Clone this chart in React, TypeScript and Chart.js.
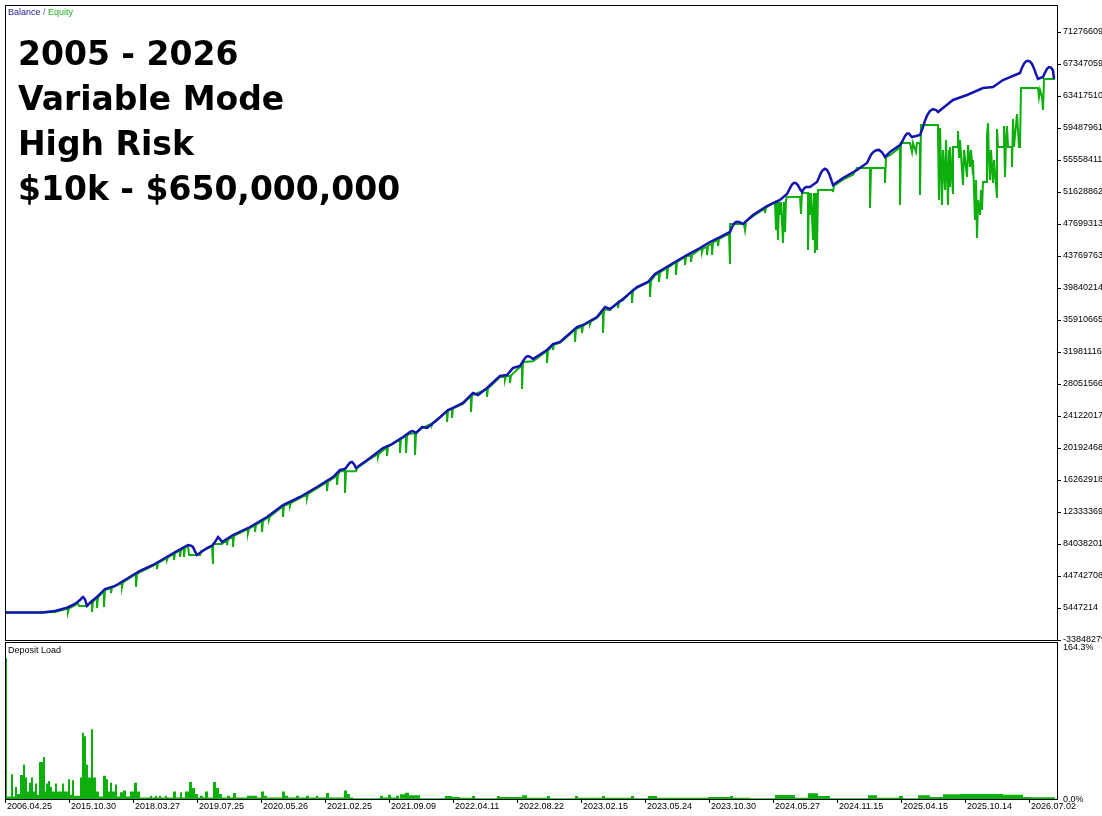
import React, { useEffect, useRef } from "react";
import { Chart, registerables } from "chart.js";

Chart.register(...registerables);

// ---------- text ----------
const titleLines = ["2005 - 2026", "Variable Mode", "High Risk", "$10k - $650,000,000"];
const dateLabels = [
  "2006.04.25", "2015.10.30", "2018.03.27", "2019.07.25", "2020.05.26", "2021.02.25",
  "2021.09.09", "2022.04.11", "2022.08.22", "2023.02.15", "2023.05.24", "2023.10.30",
  "2024.05.27", "2024.11.15", "2025.04.15", "2025.10.14", "2026.07.02",
];
const dealsPerLabel = 64; // deals between two date labels
const dealCount = 1053;

// balance axis ticks (USD)
const yTicks = [
  -33848279, 5447214, 44742708, 84038201, 123333694, 162629188, 201924681, 241220175,
  280515668, 319811162, 359106655, 398402149, 437697636, 476993130, 516288623, 555584117,
  594879610, 634175104, 673470597, 712766091,
];
const yMin = -35076000;
const yMax = 745930000;

// [deal number, balance in $M]
const balancePoints: [number, number][] = [
  [0, 0.01], [37, 0.05], [50, 1.8], [62, 5.8], [70, 10.4], [75, 15.3], [77, 18.2], [78, 19.0],
  [80, 16.0], [82, 7.9], [87, 14.0], [92, 19.0], [100, 28.8], [110, 32.5], [128, 46.0], [135, 50.9],
  [148, 58.3], [172, 75.4], [183, 82.8], [186, 82.0], [188, 80.4], [190, 75.0], [192, 70.5],
  [202, 79.1], [208, 82.8], [211, 88.5], [213, 92.6], [215, 90.0], [217, 86.5], [228, 95.1],
  [245, 104.9], [262, 117.2], [278, 131.9], [295, 141.8], [312, 154.0], [328, 166.3], [335, 174.9],
  [340, 176.1], [343, 181.0], [345, 184.0], [347, 184.7], [349, 182.0], [351, 177.4], [365, 189.6],
  [378, 201.9], [387, 206.8], [398, 215.4], [405, 221.5], [407, 222.8], [409, 222.0], [411, 220.4],
  [417, 227.7], [422, 226.5], [432, 236.3], [443, 248.6], [448, 251.1], [458, 257.2], [468, 269.5],
  [473, 267.0], [482, 275.6], [495, 290.3], [502, 291.6], [508, 300.2], [515, 302.6], [519, 310.5],
  [521, 313.8], [523, 314.9], [525, 314.0], [528, 311.2], [542, 322.3], [548, 329.6], [555, 332.1],
  [572, 350.5], [578, 353.0], [592, 362.8], [600, 375.1], [605, 372.6], [618, 384.9], [632, 399.6],
  [643, 405.8], [650, 415.6], [665, 426.7], [682, 438.9], [695, 447.5], [705, 454.9], [715, 461.0],
  [725, 467.2], [727, 473.0], [729, 477.5], [731, 479.6], [733, 479.8], [735, 479.0], [738, 477.0],
  [748, 488.1], [762, 499.1], [775, 506.5], [782, 513.8], [785, 521.0], [787, 525.5], [789, 527.6],
  [791, 527.2], [793, 524.5], [795, 520.0], [797, 516.3], [799, 520.5], [801, 522.4], [805, 522.4],
  [812, 528.6], [814, 534.0], [816, 540.0], [818, 543.5], [820, 544.8], [822, 543.5], [824, 539.0],
  [826, 532.0], [828, 524.9], [838, 533.5], [852, 543.3], [862, 551.9], [864, 557.0], [866, 562.0],
  [868, 565.0], [871, 567.5], [874, 568.0], [877, 565.0], [880, 559.3], [885, 565.4], [895, 574.0],
  [898, 580.0], [900, 585.0], [902, 588.0], [904, 588.0], [906, 585.0], [907, 583.8], [915, 586.3],
  [918, 596.0], [920, 604.0], [922, 610.0], [925, 616.0], [928, 618.2], [931, 617.0], [933, 614.5],
  [948, 629.3], [962, 635.4], [978, 644.0], [988, 645.2], [998, 653.8], [1015, 662.4],
  [1017, 669.0], [1019, 674.0], [1021, 676.8], [1023, 677.4], [1025, 676.5], [1027, 673.5],
  [1029, 668.0], [1031, 661.0], [1033, 655.1], [1038, 657.5], [1040, 663.0], [1042, 667.5],
  [1044, 669.6], [1046, 669.0], [1048, 665.5], [1049, 655.1],
];

// [deal number, equity in $M]
const equityPoints: [number, number][] = [
  [0, 0.01], [37, 0.01], [50, 0.6], [62, 4.5], [63, 4.5], [63, 0.5], [64, 5.0], [70, 9.1],
  [73, 11.0], [74, 7.9], [82, 7.9], [84, 11.0], [87, 13.0], [87, 0.5], [88, 13.5],
  [92, 17.7], [92, 5.4], [93, 18.5], [99, 26.3], [99, 6.7], [100, 27.5],
  [106, 30.0], [106, 23.9], [107, 30.5], [117, 36.2], [117, 31.3], [118, 37.0], [128, 44.8],
  [131, 46.5], [131, 31.3], [132, 47.0], [135, 49.6], [148, 57.1],
  [152, 60.0], [152, 53.3], [153, 60.5], [162, 67.0], [162, 64.4], [163, 67.5],
  [169, 72.5], [169, 64.4], [170, 73.0], [175, 76.0], [175, 68.1], [176, 76.5],
  [179, 79.0], [179, 68.1], [180, 79.5], [183, 81.5], [184, 70.5], [195, 70.5], [196, 75.0],
  [202, 78.0], [207, 81.5], [208, 59.5], [208, 84.0], [217, 84.0],
  [222, 89.0], [222, 82.8], [223, 89.5], [228, 93.5], [228, 80.4], [229, 94.0],
  [243, 102.5], [243, 97.5], [244, 103.0], [250, 107.0], [250, 98.8], [251, 107.5],
  [257, 112.0], [257, 98.8], [258, 112.5], [264, 117.5], [264, 114.0], [265, 118.0],
  [278, 130.5], [278, 117.2], [279, 131.0], [285, 134.0], [285, 130.7], [286, 134.5],
  [302, 145.0], [302, 140.5], [303, 145.5], [322, 160.0], [322, 149.1], [323, 160.5],
  [332, 168.0], [332, 156.5], [333, 169.0], [335, 173.5], [340, 173.5], [340, 146.7], [341, 173.5],
  [351, 173.5], [352, 177.0], [365, 188.5], [373, 194.5], [373, 190.9], [374, 195.0],
  [382, 203.0], [382, 192.1], [383, 203.5], [395, 212.5], [395, 195.8], [396, 213.0],
  [401, 216.5], [401, 195.8], [402, 217.0], [404, 219.0], [410, 220.0], [410, 193.3], [411, 220.0],
  [417, 226.5], [427, 232.0], [427, 230.2], [428, 233.0], [442, 247.0], [442, 233.8], [443, 247.5],
  [447, 250.0], [447, 238.8], [448, 250.5], [458, 256.0], [466, 266.0], [466, 246.1], [467, 266.5],
  [482, 274.5], [482, 264.6], [483, 275.0], [495, 289.0], [500, 289.5], [500, 285.4], [501, 290.0],
  [505, 290.5], [505, 281.8], [506, 291.0], [515, 301.5], [517, 302.5], [517, 274.4], [518, 307.5],
  [528, 308.5], [542, 321.0], [542, 306.3], [543, 321.5], [548, 328.5], [548, 322.3], [549, 329.0],
  [555, 331.0], [570, 347.0], [570, 332.1], [571, 347.5], [577, 351.0], [577, 343.1], [578, 352.0],
  [585, 357.0], [585, 354.2], [586, 357.5], [592, 361.5], [598, 370.0], [598, 343.1], [599, 372.0],
  [605, 371.5], [613, 381.0], [613, 373.8], [614, 381.5], [618, 383.5],
  [627, 395.0], [627, 380.0], [628, 395.5], [632, 398.5], [645, 406.5], [645, 387.4], [646, 407.0],
  [650, 414.0], [654, 417.0], [654, 405.8], [655, 417.5], [662, 423.0], [662, 409.5], [663, 423.5],
  [671, 430.0], [671, 414.4], [672, 430.5], [680, 436.5], [680, 426.7], [681, 437.0],
  [686, 438.5], [686, 430.3], [687, 439.0], [695, 446.0], [697, 446.5], [697, 442.6], [698, 447.0],
  [702, 449.0], [702, 438.9], [703, 450.0], [707, 453.0], [707, 438.9], [708, 454.0],
  [713, 458.0], [713, 450.0], [714, 458.5], [724, 465.5], [725, 427.9], [725, 477.0],
  [739, 477.0], [740, 469.6], [741, 480.0], [748, 486.5], [760, 496.0], [760, 490.5], [761, 497.0],
  [770, 504.0], [771, 469.6], [772, 504.0], [773, 457.4], [774, 504.0], [775, 488.1], [776, 504.0],
  [778, 453.7], [779, 504.0], [780, 467.2], [781, 507.0], [782, 510.2], [795, 510.2], [796, 489.3],
  [797, 515.1], [803, 515.1], [803, 445.1], [804, 515.1], [805, 488.1], [806, 515.1], [808, 457.4],
  [809, 515.1], [810, 441.4], [811, 515.1], [812, 445.1], [813, 518.8], [828, 518.8], [828, 516.3],
  [829, 524.0], [838, 531.5], [848, 537.5], [852, 545.8], [865, 545.8], [865, 496.6], [866, 545.8],
  [880, 545.8], [880, 527.4], [881, 559.0], [885, 561.5], [895, 571.0], [895, 500.3], [896, 576.5],
  [905, 576.5], [907, 565.4], [908, 576.5], [911, 565.4], [912, 576.5], [915, 576.5], [915, 512.6],
  [916, 598.6], [933, 598.6], [933, 587.5], [934, 506.5], [935, 594.9], [937, 500.3], [938, 567.9],
  [940, 518.8], [941, 580.2], [943, 500.3], [944, 567.9], [945, 522.4], [945, 571.6], [948, 513.8],
  [948, 571.6], [953, 571.6], [953, 591.2], [954, 558.1], [955, 580.2], [958, 524.9], [959, 567.9],
  [962, 534.7], [963, 574.0], [965, 547.0], [966, 567.9], [968, 537.2], [968, 555.6], [970, 481.9],
  [971, 531.0], [972, 459.8], [973, 506.5], [975, 488.1], [976, 518.8], [977, 494.2], [978, 528.6],
  [982, 528.6], [982, 586.3], [983, 601.0], [984, 555.6], [985, 531.0], [986, 567.9], [988, 527.4],
  [989, 555.6], [992, 508.9], [992, 593.7], [993, 571.6], [999, 571.6], [999, 597.3], [1000, 534.7],
  [1001, 580.2], [1002, 597.3], [1003, 571.6], [1007, 571.6], [1007, 547.0], [1008, 606.0],
  [1009, 571.6], [1012, 612.1], [1013, 592.4], [1014, 571.6], [1015, 571.6], [1016, 644.0],
  [1033, 644.0], [1034, 633.0], [1035, 641.6], [1037, 633.0], [1038, 617.0], [1039, 655.1],
  [1050, 655.1],
];

// [deal number, deposit load %]  (value holds until next deal)
const loadPoints: [number, number][] = [
  [0, 164.3], [2, 4], [6, 30], [8, 4], [10, 15], [12, 7], [15, 29], [18, 41], [20, 26], [22, 10],
  [24, 20], [26, 26], [28, 10], [30, 19], [32, 6], [34, 44], [38, 50], [40, 10], [41, 19], [43, 22],
  [45, 15], [47, 10], [50, 19], [52, 10], [57, 19], [59, 10], [63, 24], [65, 6], [67, 23], [69, 5],
  [75, 26], [77, 78], [79, 74], [81, 41], [83, 26], [86, 82], [88, 26], [91, 10], [94, 4], [98, 28],
  [101, 24], [103, 10], [105, 20], [107, 10], [110, 18], [112, 4], [115, 9], [118, 11], [121, 4],
  [125, 10], [129, 20], [132, 10], [135, 3], [145, 5], [147, 3], [150, 5], [152, 3], [154, 5],
  [156, 3], [160, 5], [162, 3], [168, 10], [171, 3], [175, 9], [177, 3], [180, 10], [184, 21],
  [187, 14], [190, 7], [193, 3], [195, 5], [198, 3], [200, 10], [203, 3], [208, 21], [211, 14],
  [214, 7], [217, 3], [222, 5], [225, 3], [228, 8], [231, 3], [242, 5], [252, 3], [256, 10], [259, 5],
  [262, 3], [277, 10], [280, 5], [283, 3], [291, 5], [294, 3], [301, 5], [304, 3], [311, 5], [313, 3],
  [321, 8], [324, 3], [339, 11], [342, 7], [345, 3], [348, 2], [375, 5], [378, 3], [383, 6], [386, 3],
  [391, 5], [394, 2], [395, 6.6], [400, 8.5], [404, 5.4], [415, 2], [440, 4.6], [447, 3.5],
  [455, 2.7], [467, 4.6], [470, 2], [492, 4.6], [495, 3.5], [517, 5.5], [522, 2.7], [542, 4.6],
  [545, 2], [570, 4.6], [573, 2.7], [597, 4.6], [600, 2.7], [626, 4.6], [629, 2], [643, 4.6],
  [652, 2.7], [703, 3.5], [725, 4.6], [728, 2.7], [745, 2], [770, 5.8], [790, 2.7], [803, 7.8],
  [813, 4.6], [825, 2], [863, 5.4], [872, 2.7], [894, 4.6], [898, 2], [913, 5.4], [925, 3.5],
  [938, 6.6], [955, 7], [998, 6.2], [1018, 3.5], [1025, 3.2], [1050, 0],
];
const loadPeak = 164.3;
const loadAxisLabels = ["164.3%", "0.0%"];

// ---------- style ----------
const FONT = "'Liberation Sans', Arial, sans-serif";
const BLUE = "#1414B0";
const GREEN = "#0DAF0D";

const framePlugin = {
  id: "frame",
  afterDraw(chart: any) {
    const { ctx, chartArea: a } = chart;
    ctx.save();
    ctx.strokeStyle = "#000";
    ctx.lineWidth = 1;
    ctx.strokeRect(a.left + 0.5, a.top + 0.5, a.right - a.left - 1, a.bottom - a.top - 1);
    ctx.restore();
  },
};

const loadLabelPlugin = {
  id: "loadLabels",
  afterDraw(chart: any) {
    const { ctx, chartArea: a } = chart;
    ctx.save();
    ctx.font = `9px ${FONT}`;
    ctx.fillStyle = "#000";
    ctx.textAlign = "left";
    ctx.textBaseline = "middle";
    ctx.fillText(loadAxisLabels[0], a.right + 5, a.top + 6);
    ctx.fillText(loadAxisLabels[1], a.right + 5, a.bottom);
    ctx.restore();
  },
};

export default function App() {
  const mainRef = useRef<HTMLCanvasElement>(null);
  const loadRef = useRef<HTMLCanvasElement>(null);

  useEffect(() => {
    const tickFont = { family: FONT, size: 9 };
    const main = new Chart(mainRef.current as HTMLCanvasElement, {
      type: "line",
      data: {
        datasets: [
          {
            label: "Balance",
            data: balancePoints.map(([d, v]) => ({ x: d, y: v * 1e6 })),
            borderColor: BLUE,
            borderWidth: 2.5,
            pointRadius: 0,
            tension: 0,
            order: 0,
          },
          {
            label: "Equity",
            data: equityPoints.map(([d, v]) => ({ x: d, y: v * 1e6 })),
            borderColor: GREEN,
            borderWidth: 2,
            pointRadius: 0,
            tension: 0,
            order: 1,
          },
        ],
      },
      options: {
        animation: false,
        responsive: false,
        events: [],
        layout: { padding: { left: 5, top: 5, right: 0, bottom: 1 } },
        plugins: { legend: { display: false }, tooltip: { enabled: false } },
        scales: {
          x: { type: "linear", display: false, min: 0, max: dealCount },
          y: {
            type: "linear",
            position: "right",
            min: yMin,
            max: yMax,
            afterBuildTicks: (s: any) => {
              s.ticks = yTicks.map((v) => ({ value: v }));
            },
            afterFit: (s: any) => {
              s.width = 44;
              s.paddingTop = 0;
              s.paddingBottom = 0;
            },
            ticks: {
              autoSkip: false,
              padding: 2,
              color: "#000",
              font: tickFont,
              callback: (v: any) => String(v),
            },
            grid: { drawOnChartArea: false, tickLength: 3, color: "#000" },
            border: { display: false },
          },
        },
      } as any,
      plugins: [framePlugin],
    });

    const load = new Chart(loadRef.current as HTMLCanvasElement, {
      type: "line",
      data: {
        datasets: [
          {
            label: "Deposit Load",
            data: loadPoints.map(([d, p]) => ({ x: d, y: p })),
            stepped: true,
            fill: "origin",
            backgroundColor: GREEN,
            borderColor: GREEN,
            borderWidth: 0,
            pointRadius: 0,
          },
        ],
      },
      options: {
        animation: false,
        responsive: false,
        events: [],
        layout: { padding: { left: 5, top: 0, right: 0, bottom: 0 } },
        plugins: { legend: { display: false }, tooltip: { enabled: false } },
        scales: {
          x: {
            type: "linear",
            min: 0,
            max: dealCount,
            afterBuildTicks: (s: any) => {
              s.ticks = dateLabels.map((_, i) => ({ value: i * dealsPerLabel }));
            },
            afterFit: (s: any) => {
              s.height = 16;
              s.paddingLeft = 0;
              s.paddingRight = 0;
            },
            ticks: {
              autoSkip: false,
              maxRotation: 0,
              minRotation: 0,
              align: "start",
              labelOffset: 2,
              padding: -2,
              color: "#000",
              font: tickFont,
              callback: (_v: any, i: number) => dateLabels[i],
            },
            grid: { drawOnChartArea: false, tickLength: 3, color: "#000" },
            border: { display: false },
          },
          y: {
            type: "linear",
            position: "right",
            min: 0,
            max: loadPeak * 1.115,
            ticks: { display: false },
            grid: { display: false },
            border: { display: false },
            afterFit: (s: any) => {
              s.width = 44;
              s.paddingTop = 0;
              s.paddingBottom = 0;
            },
          },
        },
      } as any,
      plugins: [framePlugin, loadLabelPlugin],
    });

    return () => {
      main.destroy();
      load.destroy();
    };
  }, []);

  const small: React.CSSProperties = {
    position: "absolute",
    font: `9px ${FONT}`,
    lineHeight: "11px",
    whiteSpace: "nowrap",
  };

  return (
    <div
      style={{
        position: "fixed",
        left: 0,
        top: 0,
        width: 1102,
        height: 816,
        background: "#fff",
        overflow: "hidden",
      }}
    >
      <canvas
        ref={mainRef}
        width={1102}
        height={642}
        style={{ position: "absolute", left: 0, top: 0, width: 1102, height: 642 }}
      />
      <canvas
        ref={loadRef}
        width={1102}
        height={174}
        style={{ position: "absolute", left: 0, top: 642, width: 1102, height: 174 }}
      />
      <div style={{ ...small, left: 8, top: 7 }}>
        <span style={{ color: "#1A1A9A" }}>Balance</span>
        <span style={{ color: "#5A6A8A" }}> / </span>
        <span style={{ color: "#22B022" }}>Equity</span>
      </div>
      <div style={{ ...small, left: 8, top: 645, color: "#000" }}>Deposit Load</div>
      <div
        style={{
          position: "absolute",
          left: 18,
          top: 31,
          font: "bold 33px 'DejaVu Sans', sans-serif",
          lineHeight: "45px",
          color: "#000",
          whiteSpace: "nowrap",
        }}
      >
        {titleLines.map((t) => (
          <div key={t}>{t}</div>
        ))}
      </div>
    </div>
  );
}
